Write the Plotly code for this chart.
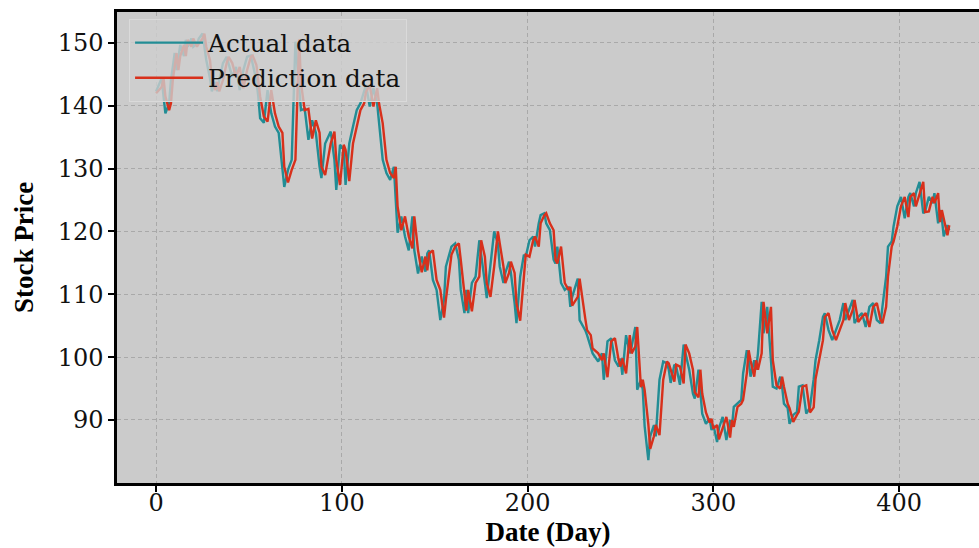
import plotly.graph_objects as go

days = [
    0, 1, 3, 4, 5, 7, 8, 9, 10, 11,
    12, 13, 15, 16, 17, 19, 20, 22, 23, 25,
    26, 27, 29, 30, 32, 33, 34, 36, 38, 39,
    41, 43, 45, 47, 49, 51, 52, 54, 55, 56,
    58, 60, 62, 64, 66, 68, 69, 71, 73, 75,
    77, 78, 80, 82, 84, 86, 88, 89, 91, 94,
    96, 97, 99, 101, 102, 104, 106, 108, 110, 112,
    113, 115, 117, 119, 120, 122, 124, 126, 128, 129,
    130, 132, 134, 136, 138, 139, 141, 143, 145, 146,
    147, 149, 151, 153, 155, 156, 158, 159, 161, 163,
    164, 166, 167, 168, 170, 172, 174, 175, 177, 178,
    180, 182, 184, 185, 187, 188, 190, 191, 193, 194,
    196, 198, 199, 201, 203, 204, 206, 207, 209, 210,
    212, 214, 215, 216, 218, 220, 222, 223, 224, 227,
    228, 231, 232, 234, 235, 238, 240, 241, 243, 245,
    247, 249, 250, 251, 253, 255, 256, 258, 259, 261,
    262, 263, 265, 266, 268, 269, 271, 273, 275, 276,
    277, 279, 280, 282, 284, 285, 287, 289, 290, 292,
    293, 294, 296, 298, 299, 300, 302, 303, 305, 307,
    309, 310, 311, 313, 315, 316, 318, 319, 320, 322,
    323, 324, 326, 327, 329, 331, 332, 334, 336, 337,
    338, 340, 341, 343, 345, 346, 348, 350, 352, 354,
    355, 357, 359, 360, 362, 364, 366, 368, 370, 371,
    373, 375, 376, 378, 380, 382, 384, 386, 388, 390,
    391, 393, 394, 396, 397, 399, 401, 403, 405, 406,
    408, 409, 411, 413, 414, 416, 418, 419, 421, 422,
    423, 424, 426, 427,
]

actual = [
    142.3, 143.0, 144.4, 141.5, 138.8, 140.4, 144.1, 146.2, 148.4, 145.7,
    147.9, 149.7, 147.9, 150.5, 149.4, 150.7, 149.4, 149.9, 150.7, 151.5,
    149.4, 147.3, 144.4, 142.3, 143.8, 142.3, 144.1, 146.8, 147.8, 146.8,
    144.6, 146.2, 142.5, 145.7, 147.8, 148.0, 146.5, 144.0, 141.5, 138.0,
    137.3, 142.5, 138.8, 136.7, 135.7, 130.0, 127.1, 129.8, 131.4, 150.2,
    143.6, 139.3, 139.5, 134.6, 137.7, 135.7, 130.3, 128.5, 134.0, 135.9,
    131.4, 126.6, 133.8, 133.0, 127.4, 134.0, 136.7, 139.3, 140.4, 142.2,
    143.3, 139.9, 142.8, 140.4, 137.2, 131.4, 129.3, 128.2, 130.3, 124.0,
    119.8, 122.4, 119.2, 117.0, 122.4, 117.0, 113.3, 116.0, 113.6, 116.5,
    117.0, 112.3, 110.7, 105.9, 109.1, 114.4, 116.3, 117.6, 118.1, 115.5,
    110.7, 107.0, 110.7, 107.0, 111.8, 112.8, 118.6, 116.0, 111.8, 109.4,
    114.4, 120.0, 118.1, 114.4, 111.8, 113.4, 115.2, 113.4, 108.6, 105.4,
    112.8, 116.3, 116.0, 118.6, 119.2, 117.6, 121.3, 122.6, 122.9, 121.3,
    120.2, 115.5, 114.9, 117.6, 111.8, 110.7, 111.2, 108.0, 109.6, 112.5,
    105.9, 104.3, 103.5, 101.4, 100.6, 99.3, 100.6, 96.4, 102.5, 103.0,
    99.5, 98.5, 99.8, 97.2, 103.5, 100.6, 101.7, 104.8, 94.8, 96.4,
    94.8, 89.0, 83.6, 87.4, 89.2, 87.4, 96.4, 99.3, 99.0, 98.0,
    95.9, 98.8, 98.5, 95.6, 102.0, 100.6, 98.0, 94.2, 93.4, 98.0,
    94.2, 91.0, 89.4, 90.2, 88.4, 89.2, 86.5, 88.7, 90.5, 86.8,
    90.0, 88.9, 92.1, 92.6, 93.2, 97.4, 101.1, 99.5, 96.9, 99.5,
    98.0, 100.6, 108.8, 103.8, 108.0, 99.5, 95.3, 95.0, 96.9, 95.3,
    92.6, 91.9, 89.4, 90.8, 91.3, 95.3, 95.5, 91.0, 92.0, 96.5,
    99.5, 102.7, 106.4, 107.0, 104.3, 102.7, 104.3, 105.9, 108.6, 105.9,
    107.5, 109.1, 105.4, 106.4, 107.0, 104.8, 108.0, 108.6, 105.9, 105.4,
    108.0, 112.8, 117.6, 118.4, 120.8, 124.0, 125.5, 122.1, 125.5, 126.1,
    124.0, 126.1, 127.9, 122.9, 123.2, 125.5, 124.5, 126.1, 121.3, 123.4,
    122.1, 119.2, 121.0, 120.2,
]

predicted = [
    142.0, 142.3, 143.0, 144.4, 141.5, 139.3, 140.4, 144.1, 146.2, 148.4,
    145.7, 147.9, 149.7, 147.9, 150.5, 149.4, 150.7, 149.4, 149.9, 150.7,
    151.5, 149.4, 147.3, 144.4, 142.5, 143.8, 142.3, 144.1, 146.8, 147.8,
    146.8, 144.6, 146.2, 142.8, 145.7, 147.8, 148.0, 146.5, 144.0, 141.5,
    138.3, 137.5, 142.5, 138.8, 136.7, 135.7, 130.3, 127.8, 129.8, 131.4,
    150.6, 143.6, 139.3, 139.5, 134.8, 137.7, 135.7, 130.3, 129.0, 134.0,
    135.9, 131.4, 127.4, 133.8, 133.0, 128.0, 134.0, 136.7, 139.3, 140.4,
    142.2, 143.3, 139.9, 142.8, 140.4, 137.2, 131.4, 129.3, 128.5, 130.3,
    124.0, 120.2, 122.4, 119.2, 117.3, 122.4, 117.0, 113.5, 116.0, 113.8,
    116.5, 117.0, 112.3, 110.7, 106.3, 109.1, 114.4, 116.3, 117.6, 118.1,
    115.5, 110.7, 107.4, 110.7, 107.3, 111.8, 112.8, 118.6, 116.0, 111.8,
    109.6, 114.4, 120.0, 118.1, 114.4, 111.8, 113.4, 115.2, 113.4, 108.6,
    105.8, 112.8, 116.3, 116.0, 118.6, 119.2, 117.6, 121.3, 122.6, 122.9,
    121.3, 120.2, 115.5, 114.9, 117.6, 111.8, 110.7, 111.2, 108.2, 109.6,
    112.5, 106.2, 104.3, 103.5, 101.4, 100.6, 99.5, 100.6, 96.8, 102.5,
    103.0, 99.5, 98.5, 99.8, 97.4, 103.5, 100.6, 101.7, 104.8, 95.2,
    96.4, 94.8, 89.3, 85.4, 87.4, 89.2, 87.6, 96.4, 99.3, 99.0,
    98.0, 96.1, 98.8, 98.5, 95.8, 102.0, 100.6, 98.0, 94.4, 93.6,
    98.0, 94.2, 91.2, 89.6, 90.2, 88.6, 89.2, 86.9, 88.7, 90.5,
    87.2, 90.0, 88.9, 92.1, 92.6, 93.2, 97.4, 101.1, 99.5, 96.9,
    99.5, 98.0, 100.6, 108.8, 103.8, 108.0, 99.5, 95.5, 95.0, 96.9,
    95.3, 92.6, 91.9, 89.7, 90.8, 91.3, 95.3, 95.5, 91.2, 92.0,
    96.5, 99.5, 102.7, 106.4, 107.0, 104.3, 102.7, 104.3, 105.9, 108.6,
    105.9, 107.5, 109.1, 105.6, 106.4, 107.0, 104.8, 108.0, 108.6, 105.9,
    105.4, 108.0, 112.8, 117.6, 118.4, 120.8, 124.0, 125.5, 122.3, 125.5,
    126.1, 124.0, 126.1, 127.9, 123.1, 123.2, 125.5, 124.5, 126.1, 121.5,
    123.4, 122.1, 119.4, 121.0,
]

x_ticks = [0, 100, 200, 300, 400]
y_ticks = [90, 100, 110, 120, 130, 140, 150]

TEAL = "#228d95"
RED = "#d8301b"
BG = "#cbcbcb"

fig = go.Figure()
fig.add_trace(go.Scatter(x=days, y=actual, mode="lines", name="Actual data",
                         line=dict(color=TEAL, width=2.4)))
fig.add_trace(go.Scatter(x=days, y=predicted, mode="lines", name="Prediction data",
                         line=dict(color=RED, width=2.4)))

grid = dict(showgrid=True, gridcolor="#a9a9a9", gridwidth=1, griddash="4px,3px")
tickfont = dict(family="DejaVu Serif", size=24, color="#111111")
titlefont = dict(family="Liberation Serif", size=27, color="black", weight="bold")

fig.update_layout(
    width=979, height=548,
    margin=dict(l=117, r=0, t=12, b=65, autoexpand=False),
    paper_bgcolor="white",
    plot_bgcolor=BG,
    showlegend=True,
    legend=dict(
        x=0.014, y=0.985, xanchor="left", yanchor="top",
        bgcolor="rgba(206,206,206,0.8)", bordercolor="#dadada", borderwidth=1,
        font=dict(family="DejaVu Serif", size=24.7, color="#111111"),
        itemwidth=68, tracegroupgap=0,
    ),
    xaxis=dict(
        range=[-21.05, 443.0], tickvals=x_ticks, ticktext=[str(v) for v in x_ticks],
        ticks="outside", ticklen=6, tickwidth=1.5, tickcolor="black",
        showline=True, linecolor="black", linewidth=2.5, mirror=True,
        zeroline=False, tickfont=tickfont, automargin=False,
        ticklabelstandoff=-10,
        title=dict(text="Date (Day)", font=titlefont, standoff=6),
        **grid,
    ),
    yaxis=dict(
        range=[79.97, 154.93], tickvals=y_ticks, ticktext=[str(v) for v in y_ticks],
        ticks="outside", ticklen=6, tickwidth=1.5, tickcolor="black",
        showline=True, linecolor="black", linewidth=2.5, mirror=False,
        zeroline=False, tickfont=tickfont, automargin=False,
        title=dict(text="Stock Price", font=titlefont, standoff=17),
        **grid,
    ),
)

# remove the browser's default 8px page margin so the figure fills the window
fig.write_html(
    "out.html",
    config={"displayModeBar": False},
    post_script="document.body.style.margin='0';document.body.style.overflow='hidden';",
)
